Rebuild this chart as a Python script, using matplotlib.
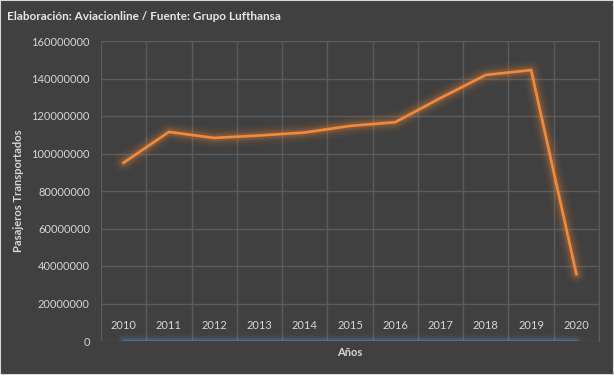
import matplotlib
matplotlib.use("Agg")
from matplotlib import pyplot as plt
from matplotlib.patches import Rectangle
import numpy as np

# datos
anios = ['2010', '2011', '2012', '2013', '2014', '2015', '2016', '2017', '2018', '2019', '2020']
pasajeros = [95.1e6, 111.5e6, 108.3e6, 109.6e6, 111.2e6, 114.7e6, 116.7e6, 129.6e6, 141.9e6, 144.5e6, 35.7e6]
base = [0] * 11
y_ticks = [0, 20e6, 40e6, 60e6, 80e6, 100e6, 120e6, 140e6, 160e6]

bg = '#404040'
grid = '#5c5c5c'
txt = '#d6d6d6'
naranja = '#f28a3c'
azul = '#5b9bd5'

plt.rcParams['font.family'] = ['Lato', 'DejaVu Sans']

fig = plt.figure(figsize=(6.14, 3.75), dpi=100, facecolor=bg)
ax = fig.add_axes([101/614, 34/375, 498/614, 300/375])
ax.set_facecolor(bg)

x = np.arange(len(anios))

# resplandor
for lw, a in [(14, 0.05), (10, 0.07), (7, 0.10), (4.5, 0.16)]:
    ax.plot(x, pasajeros, color=naranja, lw=lw, alpha=a, solid_capstyle='round', solid_joinstyle='round')
    ax.plot(x, base, color=azul, lw=lw*0.7, alpha=a, solid_capstyle='round')
ax.plot(x, pasajeros, color=naranja, lw=1.9, solid_joinstyle='miter', zorder=5)
ax.plot(x, base, color=azul, lw=1.0, zorder=5)

ax.set_xlim(-0.5, len(anios) - 0.5)
ax.set_ylim(0, 160e6)
ax.set_yticks(y_ticks)
ax.set_yticklabels([str(int(v)) for v in y_ticks])
ax.set_xticks(x)
ax.set_xticklabels(anios)
ax.set_xticks(np.arange(-0.5, len(anios)), minor=True)

ax.grid(True, axis='y', which='major', color=grid, lw=1)
ax.grid(True, axis='x', which='minor', color=grid, lw=1)
ax.grid(False, axis='x', which='major')
ax.set_axisbelow(True)

for s in ['left', 'bottom']:
    ax.spines[s].set_visible(False)
for s in ['top', 'right']:
    ax.spines[s].set_color(grid)

ax.tick_params(axis='both', which='both', length=0, colors=txt, labelsize=8)
ax.tick_params(axis='x', pad=-15)
ax.tick_params(axis='y', pad=8)

ax.set_ylabel('Pasajeros Transportados', color=txt, fontsize=8, fontweight='bold')
ax.yaxis.set_label_coords(-0.155, 0.5)
ax.set_xlabel('Años', color=txt, fontsize=8, fontweight='bold', labelpad=1)

fig.text(7/614, 1 - 17/375, 'Elaboración: Aviacionline / Fuente: Grupo Lufthansa',
         color='#e6e6e6', fontsize=8.5, fontweight='bold', va='center', ha='left')

fig.patches.append(Rectangle((0, 0), 1, 1, transform=fig.transFigure, fill=False,
                             edgecolor='#d9d9d9', lw=1.5))

fig.savefig('out.png', dpi=100, facecolor=bg)
